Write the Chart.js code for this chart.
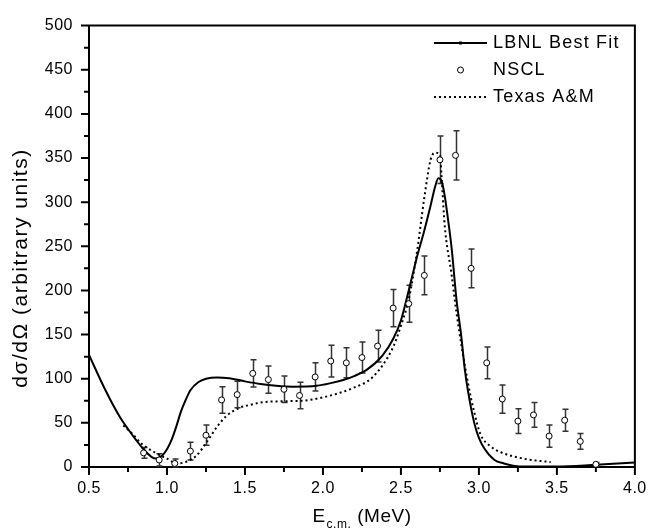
<!DOCTYPE html>
<html>
<head>
<meta charset="utf-8">
<script src="https://cdn.jsdelivr.net/npm/chart.js@4.4.0/dist/chart.umd.min.js"></script>
<style>
  body { margin: 0; background: #fff; }
  canvas { display: block; }
</style>
</head>
<body>
<canvas id="chart" width="658" height="529"></canvas>
<script>
// LBNL best fit curve (solid)
const fitE = [0.5, 0.6, 0.7, 0.75, 0.8, 0.85, 0.9, 0.93, 0.97, 1.0, 1.03, 1.06, 1.09, 1.12, 1.15, 1.2, 1.25, 1.32, 1.4, 1.5, 1.6, 1.7, 1.81, 1.96, 2.05, 2.13, 2.2, 2.28, 2.38, 2.45, 2.5, 2.55, 2.6, 2.65, 2.69, 2.72, 2.74, 2.76, 2.78, 2.8, 2.825, 2.856, 2.887, 2.91, 2.93, 2.97, 3.0, 3.035, 3.1, 3.16, 3.22, 3.3, 3.5, 3.75, 4.0];
const fitY = [127, 89, 56, 43, 31, 20, 11.5, 9.5, 13, 20, 31, 46, 63, 76, 87, 96, 100, 101.5, 100.5, 97, 94, 92, 91, 92, 95, 98.6, 103, 110, 126, 145, 166, 200, 236, 268, 296, 318, 327, 324, 308, 283, 248, 190, 148, 110, 86, 50, 33, 21, 8, 4, 1.5, 0.5, 0.5, 2.5, 5];

// Texas A&M curve (dotted)
const texE = [0.72, 0.77, 0.84, 0.92, 1.0, 1.065, 1.13, 1.19, 1.254, 1.317, 1.38, 1.465, 1.55, 1.61, 1.75, 1.876, 2.02, 2.19, 2.32, 2.445, 2.5, 2.55, 2.6, 2.65, 2.69, 2.72, 2.75, 2.76, 2.78, 2.824, 2.856, 2.93, 2.97, 3.01, 3.07, 3.14, 3.29, 3.46];
const texY = [47, 39, 26, 16.7, 9.4, 4, 6.4, 13, 28, 44.6, 57.7, 67, 71, 73.3, 74.5, 75.2, 79.7, 89.3, 102, 134, 160, 190, 240, 305, 348, 356, 354, 331, 275, 219, 175, 95, 62, 37, 24, 16.7, 9.3, 5.6];

// NSCL data points with error bars
const nsclE = [0.85, 0.95, 1.05, 1.15, 1.25, 1.35, 1.45, 1.55, 1.65, 1.75, 1.85, 1.95, 2.05, 2.15, 2.25, 2.35, 2.45, 2.55, 2.65, 2.75, 2.85, 2.95, 3.05, 3.15, 3.25, 3.35, 3.45, 3.55, 3.65, 3.75];
const nsclY = [16, 8, 4, 18, 36, 76, 82, 106, 99, 88, 81, 102, 120, 118, 124, 137, 180, 185, 217, 348, 353, 225, 118, 77, 52, 59, 35, 53, 29, 3];
const nsclErr = [6, 7, 5, 10, 11.5, 15, 15, 15.5, 15.5, 15, 15, 16, 18, 17, 17.5, 18, 21, 21, 22, 27, 28, 22, 18, 16, 14, 14, 12.5, 12.5, 9, 2];

const xTickLabels = ['0.5', '1.0', '1.5', '2.0', '2.5', '3.0', '3.5', '4.0'];
const yTickLabels = ['0', '50', '100', '150', '200', '250', '300', '350', '400', '450', '500'];

const FONT = "'Liberation Sans', Arial, Helvetica, sans-serif";

function pts(xs, ys) {
  return xs.map((x, i) => ({ x: x, y: ys[i] }));
}

// error bars under the points
const errorBars = {
  id: 'errorBars',
  beforeDatasetsDraw(chart) {
    const ctx = chart.ctx;
    const xs = chart.scales.x, ys = chart.scales.y;
    ctx.save();
    ctx.strokeStyle = '#333';
    ctx.lineWidth = 1.5;
    for (let i = 0; i < nsclE.length; i++) {
      const px = Math.round(xs.getPixelForValue(nsclE[i])) + 0.5;
      const top = ys.getPixelForValue(nsclY[i] + nsclErr[i]);
      const bot = ys.getPixelForValue(Math.max(0, nsclY[i] - nsclErr[i]));
      ctx.beginPath();
      ctx.moveTo(px, top); ctx.lineTo(px, bot);
      ctx.moveTo(px - 3, top); ctx.lineTo(px + 3, top);
      ctx.moveTo(px - 3, bot); ctx.lineTo(px + 3, bot);
      ctx.stroke();
    }
    ctx.restore();
  }
};

// frame, outward ticks, axis titles and legend
const decor = {
  id: 'decor',
  beforeDraw(chart) {
    chart.ctx.letterSpacing = '0.5px';
  },
  afterDraw(chart) {
    const ctx = chart.ctx;
    const a = chart.chartArea;
    const xs = chart.scales.x, ys = chart.scales.y;
    ctx.save();
    ctx.strokeStyle = '#000';
    ctx.fillStyle = '#000';
    ctx.lineWidth = 2;

    // top and right edges of the box
    ctx.beginPath();
    ctx.moveTo(a.left, a.top); ctx.lineTo(a.right, a.top); ctx.lineTo(a.right, a.bottom);
    ctx.stroke();

    // major + minor ticks pointing out
    const xt = xs.ticks.map(t => t.value);
    ctx.beginPath();
    for (let i = 0; i < xt.length; i++) {
      let p = xs.getPixelForValue(xt[i]);
      ctx.moveTo(p, a.bottom); ctx.lineTo(p, a.bottom + 8);
      if (i < xt.length - 1) {
        p = xs.getPixelForValue((xt[i] + xt[i + 1]) / 2);
        ctx.moveTo(p, a.bottom); ctx.lineTo(p, a.bottom + 5);
      }
    }
    const yt = ys.ticks.map(t => t.value);
    for (let i = 0; i < yt.length; i++) {
      let p = ys.getPixelForValue(yt[i]);
      ctx.moveTo(a.left, p); ctx.lineTo(a.left - 8, p);
      if (i < yt.length - 1) {
        p = ys.getPixelForValue((yt[i] + yt[i + 1]) / 2);
        ctx.moveTo(a.left, p); ctx.lineTo(a.left - 5, p);
      }
    }
    ctx.stroke();

    // x title: E with c.m. subscript
    ctx.textBaseline = 'alphabetic';
    ctx.textAlign = 'left';
    ctx.letterSpacing = '0.5px';
    ctx.font = '19px ' + FONT;
    const wE = ctx.measureText('E').width;
    const wM = ctx.measureText('(MeV)').width;
    ctx.font = '12px ' + FONT;
    const wS = ctx.measureText('c.m.').width;
    const total = wE + 1 + wS + 6 + wM;
    let x0 = (a.left + a.right) / 2 - total / 2;
    ctx.font = '19px ' + FONT;
    ctx.fillText('E', x0, 522);
    ctx.font = '12px ' + FONT;
    ctx.fillText('c.m.', x0 + wE + 1, 528);
    ctx.font = '19px ' + FONT;
    ctx.fillText('(MeV)', x0 + wE + 1 + wS + 6, 522);

    // y title
    ctx.save();
    ctx.translate(21, 268);
    ctx.rotate(-Math.PI / 2);
    ctx.textAlign = 'center';
    ctx.textBaseline = 'middle';
    ctx.letterSpacing = '1.5px';
    ctx.font = '21px ' + FONT;
    ctx.fillText('d\u03C3/d\u03A9 (arbitrary units)', 0, 0);
    ctx.restore();

    // legend
    const ds = chart.data.datasets;
    const lx0 = 434, lx1 = 487, tx = 493;
    const rows = [43, 70, 97];
    ctx.letterSpacing = '1.2px';
    ctx.font = '18px ' + FONT;
    ctx.textBaseline = 'middle';
    ctx.textAlign = 'left';

    ctx.lineWidth = 2;
    ctx.setLineDash([]);
    ctx.beginPath();
    ctx.moveTo(lx0, rows[0]); ctx.lineTo(lx1, rows[0]);
    ctx.stroke();
    ctx.fillRect((lx0 + lx1) / 2 - 1.5, rows[0] - 1.5, 3, 3);
    ctx.fillText(ds[0].label, tx, rows[0]);

    ctx.lineWidth = 1;
    ctx.fillStyle = '#fff';
    ctx.beginPath();
    ctx.arc((lx0 + lx1) / 2, rows[1], 3, 0, Math.PI * 2);
    ctx.fill();
    ctx.stroke();
    ctx.fillStyle = '#000';
    ctx.fillText(ds[1].label, tx, rows[1]);

    ctx.lineWidth = 2;
    ctx.setLineDash([2, 3]);
    ctx.beginPath();
    ctx.moveTo(lx0, rows[2]); ctx.lineTo(lx1, rows[2]);
    ctx.stroke();
    ctx.setLineDash([]);
    ctx.fillText(ds[2].label, tx, rows[2]);

    ctx.restore();
  }
};

new Chart(document.getElementById('chart'), {
  type: 'line',
  data: {
    datasets: [
      {
        label: 'LBNL Best Fit',
        data: pts(fitE, fitY),
        borderColor: '#000',
        borderWidth: 2,
        pointRadius: 0,
        cubicInterpolationMode: 'monotone',
        order: 2
      },
      {
        label: 'NSCL',
        data: pts(nsclE, nsclY),
        showLine: false,
        pointRadius: 3,
        pointBackgroundColor: '#fff',
        pointBorderColor: '#000',
        pointBorderWidth: 1,
        order: 1
      },
      {
        label: 'Texas A&M',
        data: pts(texE, texY),
        borderColor: '#000',
        borderWidth: 2,
        borderDash: [2, 3],
        pointRadius: 0,
        cubicInterpolationMode: 'monotone',
        order: 3
      }
    ]
  },
  options: {
    responsive: false,
    animation: false,
    devicePixelRatio: 1,
    layout: { padding: { top: 18, right: 15, left: 0, bottom: 0 } },
    plugins: {
      legend: { display: false },
      tooltip: { enabled: false }
    },
    scales: {
      x: {
        type: 'linear',
        min: 0.5,
        max: 4,
        ticks: {
          stepSize: 0.5,
          color: '#000',
          padding: 12,
          maxRotation: 0,
          font: { family: FONT, size: 16 },
          callback: (v, i) => xTickLabels[i]
        },
        grid: { display: false, drawTicks: false },
        border: { display: true, color: '#000', width: 2 },
        afterFit: s => { s.height = 62; }
      },
      y: {
        min: 0,
        max: 500,
        ticks: {
          stepSize: 50,
          color: '#000',
          padding: 16,
          font: { family: FONT, size: 16 },
          callback: (v, i) => yTickLabels[i]
        },
        grid: { display: false, drawTicks: false },
        border: { display: true, color: '#000', width: 2 },
        afterFit: s => { s.height; s.width = 89; }
      }
    }
  },
  plugins: [errorBars, decor]
});
</script>
</body>
</html>
